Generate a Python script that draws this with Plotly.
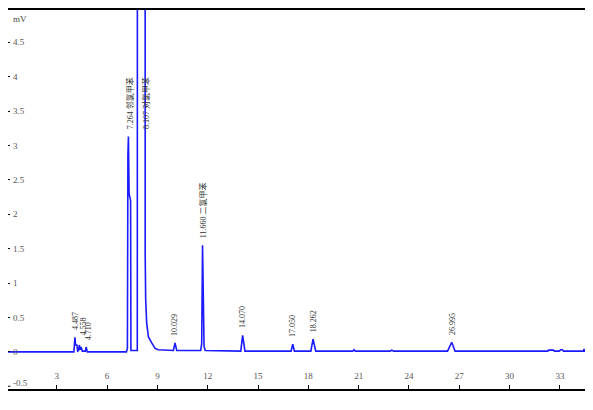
import plotly.graph_objects as go

# Chromatogram trace (time in min, signal in mV)
time_min = [0.09, 4.02, 4.08, 4.12, 4.20, 4.24, 4.30, 4.34, 4.40, 4.45, 4.52, 4.70, 4.75, 4.82,
            7.15, 7.21, 7.24, 7.27, 7.31, 7.40, 7.42, 7.80, 7.83, 8.26, 8.27, 8.30, 8.36, 8.46,
            8.66, 8.86, 9.05, 9.85, 9.95, 10.05, 10.15, 11.58, 11.64, 11.69, 11.74, 11.78, 11.85,
            13.97, 14.08, 14.22, 16.97, 17.07, 17.17, 18.15, 18.28, 18.44, 20.65, 20.72, 20.80,
            22.88, 22.97, 23.08, 26.30, 26.55, 26.75, 32.28, 32.32, 32.62, 32.67, 32.95, 33.05,
            33.15, 33.22, 34.40, 34.44, 34.48, 35.40]
signal_mv = [0.0, 0.0, 0.21, 0.10, 0.10, 0.01, 0.02, 0.10, 0.03, 0.07, 0.01, 0.01, 0.07, 0.0,
             0.0, 0.05, 2.86, 3.13, 2.30, 2.20, 0.02, 0.02, 30.0, 30.0, 1.43, 0.76, 0.42, 0.22,
             0.13, 0.05, 0.03, 0.02, 0.02, 0.13, 0.02, 0.02, 0.12, 1.55, 0.50, 0.08, 0.02,
             0.01, 0.24, 0.01, 0.01, 0.11, 0.01, 0.01, 0.185, 0.01, 0.01, 0.03, 0.01,
             0.01, 0.025, 0.01, 0.01, 0.14, 0.01, 0.01, 0.025, 0.025, 0.01, 0.01, 0.03,
             0.03, 0.01, 0.01, 0.04, 0.01, 0.01]

# Peak labels
label_time = [4.12, 4.58, 4.88, 7.35, 8.29, 10.06, 11.72, 14.08, 17.07, 18.28, 26.55]
label_apex = [0.21, 0.14, 0.07, 3.13, 30.0, 0.13, 1.55, 0.24, 0.11, 0.185, 0.14]
label_text = ["4.487", "4.558", "4.710", "7.264 邻氯甲苯", "8.107 对氯甲苯", "10.029",
              "11.660 二氯甲苯", "14.070", "17.050", "18.262", "26.995"]

x_tickvals = [3, 6, 9, 12, 15, 18, 21, 24, 27, 30, 33]
x_ticktext = ["3", "6", "9", "12", "15", "18", "21", "24", "27", "30", "33"]
y_tickvals = [0, 0.5, 1, 1.5, 2, 2.5, 3, 3.5, 4, 4.5]
y_ticktext = ["0", "0.5", "1", "1.5", "2", "2.5", "3", "3.5", "4", "4.5"]
y_bottom_tick = -0.5

X_RANGE = [0.09, 35.45]
Y_RANGE = [-0.54, 4.97]
LABEL_CAP = 3.13
SERIF = "Liberation Serif, Times New Roman, Noto Sans CJK SC, serif"
TICKFONT = dict(family=SERIF, size=9, color="#555555")

fig = go.Figure()
fig.add_trace(go.Scatter(x=time_min, y=signal_mv, mode="lines",
                         line=dict(color="#1a1aff", width=1.6), hoverinfo="skip"))

for t, a, s in zip(label_time, label_apex, label_text):
    fig.add_annotation(x=t, y=min(a, LABEL_CAP), text=s, textangle=-90, showarrow=False,
                       xanchor="center", yanchor="bottom", yshift=5,
                       font=dict(family=SERIF, size=8, color="#333333"))

fig.add_annotation(xref="paper", yref="paper", x=0, y=1, xshift=3, yshift=-2,
                   text="mV", showarrow=False, xanchor="left", yanchor="top",
                   font=dict(family=SERIF, size=9, color="#444444"))

# bottom y tick (-0.5) sits too close to the axis end for Plotly's inside labels
fig.add_shape(type="line", xref="paper", yref="y", x0=0, x1=0.004,
              y0=y_bottom_tick, y1=y_bottom_tick, line=dict(color="black", width=1))
fig.add_annotation(xref="paper", yref="y", x=0, y=y_bottom_tick, xshift=3, yshift=3,
                   text=str(y_bottom_tick), showarrow=False, xanchor="left", yanchor="middle",
                   font=TICKFONT)

fig.update_layout(
    width=593, height=410,
    margin=dict(l=0, r=0, t=2, b=29, autoexpand=False),
    paper_bgcolor="white", plot_bgcolor="white",
    showlegend=False,
    xaxis=dict(range=X_RANGE, tickvals=x_tickvals, ticktext=x_ticktext, automargin=False,
               showline=True, mirror=True, linecolor="black", linewidth=2,
               ticks="inside", ticklen=4, tickcolor="black", tickwidth=1,
               ticklabelposition="inside", ticklabelstandoff=3,
               showgrid=False, zeroline=False, tickfont=TICKFONT),
    yaxis=dict(range=Y_RANGE, tickvals=y_tickvals, ticktext=y_ticktext, automargin=False,
               showline=True, mirror=False, linecolor="black", linewidth=1.5,
               ticks="inside", ticklen=2, tickcolor="black", tickwidth=1,
               ticklabelposition="inside", ticklabelstandoff=2,
               showgrid=False, zeroline=False, tickfont=TICKFONT),
)

fig.write_html("out.html")
